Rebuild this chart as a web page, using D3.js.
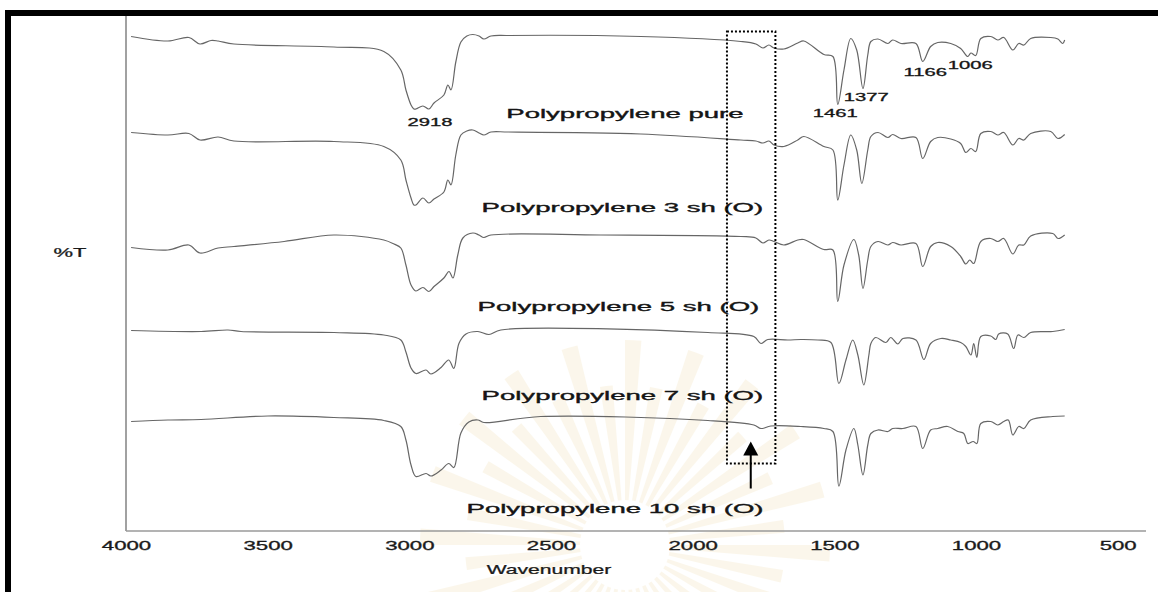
<!DOCTYPE html>
<html lang="en">
<head>
<meta charset="UTF-8">
<title>FTIR Polypropylene</title>
<style>
  body { margin: 0; background: #fff; }
  svg { display: block; font-family: "Liberation Sans", Arial, sans-serif; }
</style>
</head>
<body>
<svg id="chart" width="1158" height="592"></svg>
<script src="https://cdn.jsdelivr.net/npm/d3@7/dist/d3.min.js"></script>
<script>
// tick labels on the wavenumber axis
const xTicks = [4000, 3500, 3000, 2500, 2000, 1500, 1000, 500];

// spectra: [wavenumber, %T (stacked with offset)]
const ppPure = [[3982,98.9],[3852,98.0],[3778,98.7],[3739,97.4],[3700,98.1],[3675,98.0],[3619,97.4],[3266,96.8],
  [3090,95.9],[3030,92.2],[3012,88.2],[2994,85.2],[2984,84.4],[2977,84.4],[2952,85.0],[2931,84.4],[2913,85.6],
  [2878,87.2],[2864,89.2],[2853,88.2],[2836,93.8],[2818,97.8],[2797,99.0],[2776,99.3],[2754,99.0],[2737,98.4],
  [2712,99.0],[2652,99.1],[2183,98.9],[1830,97.9],[1777,97.4],[1752,96.6],[1731,97.2],[1713,96.6],[1678,96.4],
  [1629,97.6],[1608,98.0],[1537,95.3],[1505,94.9],[1488,85.3],[1466,92.2],[1442,98.5],[1421,96.2],[1399,88.5],
  [1382,95.2],[1371,97.9],[1346,98.4],[1311,97.5],[1294,98.2],[1265,97.5],[1212,97.5],[1188,93.9],[1160,96.9],
  [1135,97.7],[1089,97.5],[1054,96.5],[1029,94.9],[1018,95.6],[1001,95.1],[983,98.5],[948,98.9],[923,98.2],
  [902,98.7],[870,96.2],[849,97.5],[831,97.2],[807,98.5],[736,98.7],[711,98.4],[694,97.5],[687,98.2]];

const pp3 = [[3982,79.7],[3852,79.2],[3778,79.5],[3739,78.2],[3675,78.8],[3619,78.0],[3266,77.9],[3090,76.9],
  [3030,74.2],[3012,70.2],[2994,66.6],[2984,65.2],[2977,65.2],[2952,66.6],[2931,65.6],[2913,66.4],[2878,67.8],
  [2864,70.2],[2853,69.2],[2836,75.2],[2818,79.2],[2797,80.0],[2776,80.2],[2754,79.6],[2737,79.2],[2712,79.8],
  [2652,79.8],[2183,79.4],[1830,78.2],[1777,78.0],[1752,77.6],[1731,78.0],[1713,77.2],[1678,76.9],[1629,78.2],
  [1608,78.9],[1537,76.9],[1505,76.2],[1488,66.2],[1466,73.2],[1442,79.2],[1421,76.2],[1403,69.5],[1382,76.2],
  [1371,78.9],[1346,79.7],[1311,78.7],[1294,79.3],[1265,78.5],[1212,78.7],[1188,74.5],[1160,77.9],[1135,78.7],
  [1089,78.4],[1054,77.5],[1036,75.7],[1018,76.5],[1001,75.9],[983,79.5],[948,79.9],[923,79.2],[902,79.7],
  [870,77.2],[849,78.5],[831,78.2],[807,79.5],[736,79.9],[711,78.5],[687,79.3]];

const pp5 = [[3982,56.7],[3852,56.2],[3778,57.2],[3739,55.6],[3675,56.6],[3619,56.9],[3442,57.9],[3266,59.2],
  [3090,58.2],[3054,57.4],[3030,56.6],[3012,53.2],[2994,49.2],[2977,48.0],[2952,48.7],[2931,47.9],[2913,48.9],
  [2878,50.6],[2860,51.9],[2846,50.6],[2829,55.2],[2811,58.6],[2776,59.6],[2754,59.2],[2737,58.7],[2712,59.2],
  [2324,59.2],[1830,58.9],[1777,58.6],[1752,57.6],[1731,58.2],[1713,57.9],[1678,57.2],[1629,58.2],[1608,58.3],
  [1537,56.3],[1505,56.2],[1488,45.9],[1466,53.2],[1431,58.3],[1414,55.2],[1399,48.5],[1382,54.2],[1371,56.9],
  [1346,57.9],[1311,57.2],[1294,57.7],[1265,57.2],[1212,57.5],[1188,52.9],[1160,56.9],[1135,57.7],[1089,56.9],
  [1054,54.9],[1036,53.4],[1022,54.2],[1008,53.5],[983,57.9],[948,58.5],[923,57.9],[902,58.5],[870,55.4],
  [849,57.2],[831,57.2],[807,59.0],[729,59.5],[710,58.5],[687,59.2]];

const pp7 = [[3982,40.1],[3735,39.9],[3640,40.2],[3594,39.9],[3266,39.7],[3090,39.2],[3030,38.2],[3012,35.8],
  [2994,32.6],[2977,31.5],[2941,32.2],[2924,31.4],[2888,32.7],[2861,34.2],[2843,32.5],[2825,37.5],[2800,39.4],
  [2758,39.9],[2719,39.3],[2677,40.2],[1946,39.7],[1784,38.9],[1759,37.5],[1735,38.3],[1664,38.2],[1618,38.3],
  [1558,38.2],[1512,37.7],[1484,29.5],[1459,34.2],[1435,38.2],[1417,35.2],[1396,29.2],[1378,35.2],[1371,37.5],
  [1354,38.7],[1318,37.7],[1301,38.7],[1276,37.4],[1258,38.5],[1212,38.2],[1184,34.3],[1160,37.5],[1124,38.5],
  [1089,38.2],[1054,37.7],[1036,36.9],[1018,35.2],[1008,37.5],[997,34.7],[983,38.9],[948,39.0],[930,38.3],
  [920,39.4],[888,39.4],[867,36.5],[852,39.2],[831,38.7],[807,39.7],[729,39.9],[687,40.3]];

const pp10 = [[3982,21.9],[3852,22.2],[3735,22.3],[3499,23.0],[3266,22.7],[3090,22.1],[3030,20.9],[3012,18.2],
  [2994,13.2],[2977,10.9],[2941,11.5],[2924,11.0],[2888,12.2],[2861,13.5],[2843,12.7],[2818,19.6],[2790,21.8],
  [2758,22.2],[2737,21.7],[2536,22.9],[1946,22.1],[1784,21.2],[1759,20.5],[1724,21.0],[1618,20.9],[1537,20.5],
  [1505,19.9],[1484,9.0],[1459,16.2],[1431,20.5],[1417,17.2],[1399,11.2],[1382,17.2],[1371,19.5],[1346,20.2],
  [1311,19.9],[1294,20.5],[1258,20.5],[1212,20.9],[1188,16.5],[1160,20.2],[1135,20.5],[1100,20.9],[1064,19.9],
  [1043,19.5],[1029,17.5],[1010,17.9],[997,17.5],[983,21.5],[948,21.9],[923,21.2],[902,21.9],[886,22.2],
  [870,19.2],[849,20.9],[831,20.5],[807,22.2],[729,22.9],[687,23.0]];

const spectra = [ppPure, pp3, pp5, pp7, pp10];
const sampleNames = ['Polypropylene pure', 'Polypropylene 3 sh (O)', 'Polypropylene 5 sh (O)',
  'Polypropylene 7 sh (O)', 'Polypropylene 10 sh (O)'];
// where each sample name sits: [wavenumber, %T]
const sampleNameAt = [[2239, 82.6], [2248, 63.7], [2262, 43.9], [2248, 26.2], [2274, 3.6]];

// peak assignments written on the pure spectrum
const peakText = ['2918', '1461', '1377', '1166', '1006'];
const peakAt = [[2927, 81.0], [1497, 82.8], [1387, 85.9], [1179, 90.9], [1020, 92.4]];

// carbonyl region box and arrow
const boxRange = [1879, 1708, 99.9, 13.5];
const arrowAt = [1795, 8.5, 17.9];

const svg = d3.select('#chart');
const W = 1158, H = 592;

const x = d3.scaleLinear().domain([4000, 400]).range([126, 1146]);
const y = d3.scaleLinear().domain([0, 102.6]).range([531, 18]);

// stretch text horizontally round its anchor, the scan is wider than tall
function stretch(sel, k) {
  sel.each(function() {
    const t = d3.select(this);
    const cx = +t.attr('x') || 0;
    t.attr('transform', 'translate(' + cx + ',0) scale(' + k + ',1) translate(' + (-cx) + ',0)');
  });
}

// faint watermark in the background
const wm = svg.append('g').attr('transform', 'translate(625,545)').attr('opacity', 0.28);
const rays = d3.range(40);
wm.selectAll('path').data(rays).enter().append('path')
  .attr('d', d3.arc().innerRadius(45).outerRadius(function(d) { return d % 2 ? 160 : 205; })
    .startAngle(function(d) { return d * Math.PI * 2 / 40; })
    .endAngle(function(d) { return d * Math.PI * 2 / 40 + 0.08; }))
  .attr('fill', '#f3e2b8');

// axes lines
svg.append('line').attr('x1', x(4000)).attr('x2', x(4000)).attr('y1', 16).attr('y2', y(0))
  .attr('stroke', '#8a8a8a').attr('stroke-width', 1.6);
svg.append('line').attr('x1', x(4000)).attr('x2', x(400)).attr('y1', y(0)).attr('y2', y(0))
  .attr('stroke', '#9a9a9a').attr('stroke-width', 1.6);

const xAxis = svg.append('g').attr('transform', 'translate(0,' + y(0) + ')')
  .call(d3.axisBottom(x).tickValues(xTicks).tickSize(0).tickPadding(10).tickFormat(d3.format('d')));
xAxis.select('.domain').remove();
xAxis.selectAll('text').attr('font-size', 12).attr('fill', '#1a1a1a')
  .attr('stroke', '#1a1a1a').attr('stroke-width', 0.3)
  .attr('font-family', '"Liberation Sans", Arial, sans-serif').call(stretch, 1.85);

svg.append('text').attr('x', 549).attr('y', 574).attr('text-anchor', 'middle')
  .attr('font-size', 12).attr('fill', '#1a1a1a').attr('stroke', '#1a1a1a').attr('stroke-width', 0.25)
  .text('Wavenumber').call(stretch, 1.76);
svg.append('text').attr('x', 70).attr('y', 257).attr('text-anchor', 'middle')
  .attr('font-size', 12).attr('fill', '#1a1a1a').attr('stroke', '#1a1a1a').attr('stroke-width', 0.25)
  .text('%T').call(stretch, 1.83);

// spectra
const line = d3.line().x(function(d) { return x(d[0]); }).y(function(d) { return y(d[1]); })
  .curve(d3.curveCatmullRom.alpha(0.5));
svg.append('g').selectAll('path').data(spectra).enter().append('path')
  .attr('d', line).attr('fill', 'none').attr('stroke', '#666').attr('stroke-width', 1.2);

// sample names
svg.append('g').selectAll('text').data(sampleNames).enter().append('text')
  .attr('x', function(d, i) { return x(sampleNameAt[i][0]); })
  .attr('y', function(d, i) { return y(sampleNameAt[i][1]); })
  .attr('text-anchor', 'middle').attr('font-size', 13).attr('fill', '#151515')
  .attr('stroke', '#151515').attr('stroke-width', 0.35)
  .text(function(d) { return d; }).call(stretch, 2.12);

// peak labels
svg.append('g').selectAll('text').data(peakText).enter().append('text')
  .attr('x', function(d, i) { return x(peakAt[i][0]); })
  .attr('y', function(d, i) { return y(peakAt[i][1]); })
  .attr('text-anchor', 'middle').attr('font-size', 11).attr('fill', '#151515')
  .attr('stroke', '#151515').attr('stroke-width', 0.3)
  .text(function(d) { return d; }).call(stretch, 1.84);

// dotted box around the 1700-1880 region
svg.append('rect')
  .attr('x', x(boxRange[0])).attr('y', y(boxRange[2]))
  .attr('width', x(boxRange[1]) - x(boxRange[0])).attr('height', y(boxRange[3]) - y(boxRange[2]))
  .attr('fill', 'none').attr('stroke', '#000').attr('stroke-width', 2).attr('stroke-dasharray', '2,2');

// arrow
const ax = x(arrowAt[0]);
svg.append('line').attr('x1', ax).attr('x2', ax).attr('y1', y(arrowAt[1])).attr('y2', y(arrowAt[2]) + 12)
  .attr('stroke', '#000').attr('stroke-width', 2);
svg.append('path')
  .attr('d', 'M' + ax + ',' + y(arrowAt[2]) + 'L' + (ax - 7.5) + ',' + (y(arrowAt[2]) + 14) + 'L' + (ax + 7.5) + ',' + (y(arrowAt[2]) + 14) + 'Z')
  .attr('fill', '#000');

// black frame of the scanned figure
svg.append('rect').attr('x', 8).attr('y', 13).attr('width', W + 20).attr('height', H + 20)
  .attr('fill', 'none').attr('stroke', '#000').attr('stroke-width', 6);
</script>
</body>
</html>
